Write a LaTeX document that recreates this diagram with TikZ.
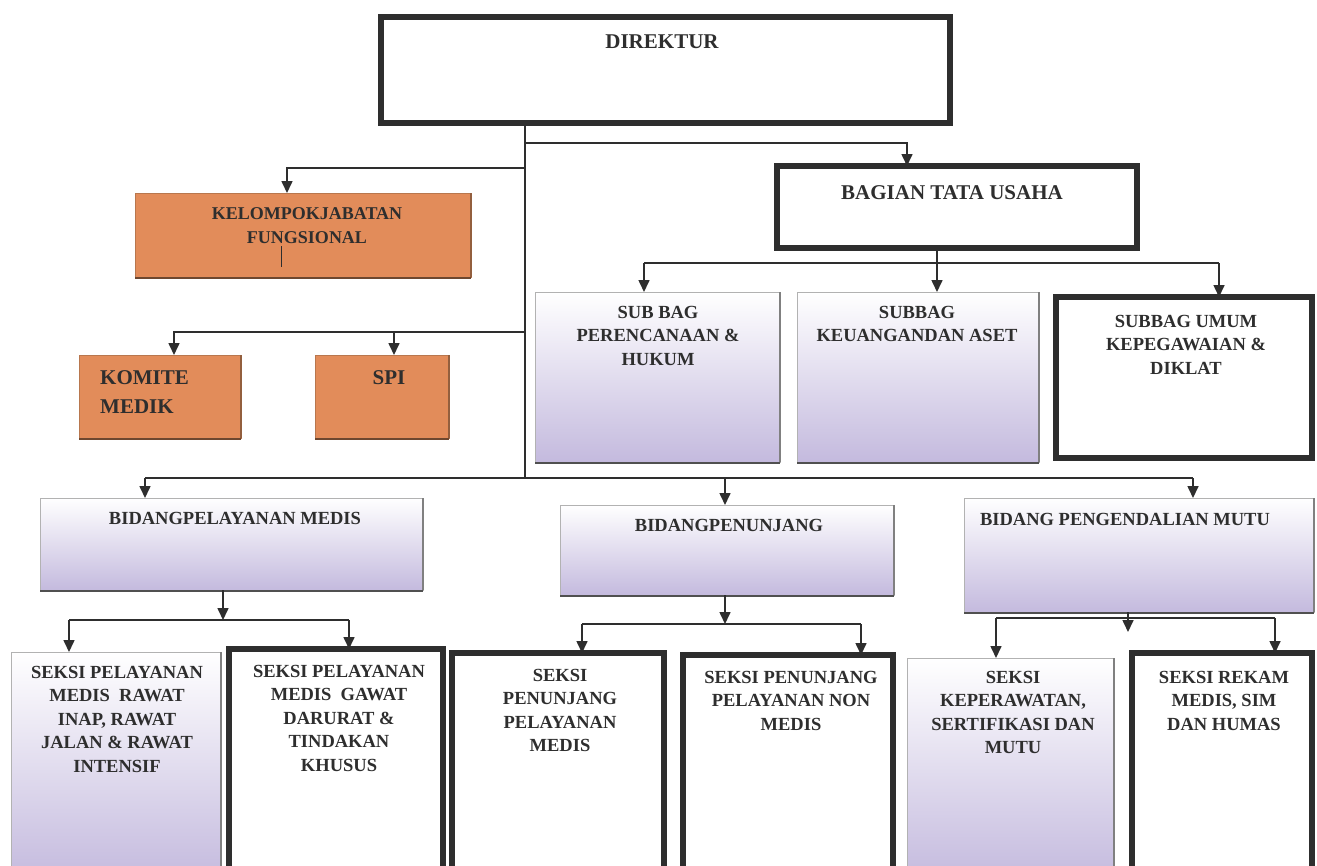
\documentclass[tikz,border=0pt]{standalone}
\usepackage{fontspec}
\setmainfont{Liberation Serif}
\usetikzlibrary{arrows.meta}
\definecolor{ink}{HTML}{2E2E2E}
\definecolor{lav}{HTML}{C4BADE}
\definecolor{lavmid}{HTML}{EEEAF5}
\definecolor{orA}{HTML}{E28C5A}
\definecolor{orB}{HTML}{F6C49E}
\definecolor{orEdge}{HTML}{B8774E}
\definecolor{shd}{HTML}{505050}
\newcommand\mkbox[6]{\node[#2, minimum width={(#5-#3)*1pt}, minimum height={(#6-#4)*1pt}] (#1) at (#3,#4) {};}
\begin{document}
\begin{tikzpicture}[x=1pt,y=-1pt,
 boxbase/.style={rectangle, inner sep=0pt, outer sep=0pt, anchor=north west},
 thickbox/.style={boxbase, draw=ink, line width=5.5pt, fill=white},
 purplebox/.style={boxbase, draw=gray!60, line width=0.8pt, top color=white, middle color=lavmid, bottom color=lav},
 orangebox/.style={boxbase, draw=orEdge, line width=0.8pt, left color=orA, middle color=orB, right color=orA},
 lbl/.style={inner sep=0pt, align=center, text=ink, font=\bfseries\fontsize{18.5}{23.5}\selectfont, anchor=north},
 big/.style={font=\bfseries\fontsize{21}{29}\selectfont},
 conn/.style={draw=ink, line width=1.6pt},
 arr/.style={conn, -{Triangle[length=12pt,width=11pt]}},
]
\useasboundingbox (0,0) rectangle (1317,865);
\clip (0,0) rectangle (1317,865);
\fill[white] (0,0) rectangle (1317,865);

% boxes
\mkbox{dir}{thickbox}{381}{17}{950}{123}
\mkbox{btu}{thickbox}{777}{166}{1137}{248}
\mkbox{kel}{orangebox}{135}{193}{471}{277}
\mkbox{kom}{orangebox}{79}{355}{241}{438}
\mkbox{spi}{orangebox}{315}{355}{449}{438}
\mkbox{sbp}{purplebox}{535}{292}{780}{462}
\mkbox{sbk}{purplebox}{797}{292}{1039}{462}
\mkbox{sbu}{thickbox}{1056}{297}{1312}{458}
\mkbox{bpm}{purplebox}{40}{498}{423}{590}
\mkbox{bp}{purplebox}{560}{505}{894}{595}
\mkbox{bpmu}{purplebox}{964}{498}{1314}{612}
\mkbox{s1}{purplebox}{11}{652}{221}{880}
\mkbox{s2}{thickbox}{229}{649}{443}{880}
\mkbox{s3}{thickbox}{452}{653}{664}{880}
\mkbox{s4}{thickbox}{683}{655}{893}{880}
\mkbox{s5}{purplebox}{907}{658}{1114}{880}
\mkbox{s6}{thickbox}{1132}{653}{1312}{880}

% shadows
\foreach \n in {sbp,sbk,bpm,bp,bpmu}{
  \draw[shd, line width=2.5pt] ([yshift=-1pt]\n.south west) -- ([yshift=-1pt]\n.south east);
  \draw[gray, line width=1.6pt] (\n.north east) -- (\n.south east);
}
\foreach \n in {s1,s5}{
  \draw[gray, line width=1.6pt] (\n.north east) -- (\n.south east);
}
\foreach \n in {kel,kom,spi}{
  \draw[orEdge!60!black, line width=2.5pt] ([yshift=-1pt]\n.south west) -- ([yshift=-1pt]\n.south east);
  \draw[orEdge!80!black, line width=1.6pt] (\n.north east) -- (\n.south east);
}

% texts
\node[lbl, big] (tdir) at (662,35) {DIREKTUR};
\node[lbl, big] (tbtu) at (952,185) {BAGIAN TATA USAHA};
\node[lbl, font=\bfseries\fontsize{18}{24}\selectfont] (tkel) at (307,207) {KELOMPOKJABATAN\\FUNGSIONAL};
\node[lbl, big, anchor=north west, align=left] (tkom) at (100,370) {KOMITE\\MEDIK};
\node[lbl, big] (tspi) at (389,370) {SPI};
\node[lbl] (tsbp) at (658,306) {SUB BAG\\PERENCANAAN \&\\HUKUM};
\node[lbl] (tsbk) at (917,306) {SUBBAG\\KEUANGANDAN ASET};
\node[lbl] (tsbu) at (1186,315) {SUBBAG UMUM\\KEPEGAWAIAN \&\\DIKLAT};
\node[lbl] (tbpm) at (235,512) {BIDANGPELAYANAN MEDIS};
\node[lbl] (tbp) at (729,519) {BIDANGPENUNJANG};
\node[lbl] (tbpmu) at (1125,513) {BIDANG PENGENDALIAN MUTU};
\node[lbl] (ts1) at (117,666) {SEKSI PELAYANAN\\MEDIS\ \ RAWAT\\INAP, RAWAT\\JALAN \& RAWAT\\INTENSIF};
\node[lbl] (ts2) at (339,665) {SEKSI PELAYANAN\\MEDIS\ \ GAWAT\\DARURAT \&\\TINDAKAN\\KHUSUS};
\node[lbl] (ts3) at (560,669) {SEKSI\\PENUNJANG\\PELAYANAN\\MEDIS};
\node[lbl] (ts4) at (791,671) {SEKSI PENUNJANG\\PELAYANAN NON\\MEDIS};
\node[lbl] (ts5) at (1013,671) {SEKSI\\KEPERAWATAN,\\SERTIFIKASI DAN\\MUTU};
\node[lbl] (ts6) at (1224,671) {SEKSI REKAM\\MEDIS, SIM\\DAN HUMAS};
\draw[ink, line width=1pt] (281,246) -- (281,267);

% connectors
\coordinate (jb) at (525,478);
\draw[conn, line width=1.1pt] (dir.south -| jb) -- (jb);
\coordinate (cBtu) at (525,143);
\draw[arr] (cBtu) -| ([xshift=-50pt]btu.north);
\coordinate (k1) at (525,168);
\draw[arr] (k1) -| ([xshift=-16pt]kel.north);
\coordinate (k2) at (525,332);
\draw[arr] (k2) -| ([xshift=14pt]kom.north);
\draw[arr] ([xshift=12pt]spi.north |- k2) -- ([xshift=12pt]spi.north);

\coordinate (u1) at (644,263);
\coordinate (u2) at (1219,263);
\draw[conn] (u1) -- (u2);
\draw[arr] (u1) -- (u1 |- sbp.north);
\draw[arr] (u2) -- (u2 |- sbu.north);
\draw[arr] ([xshift=-20pt]btu.south) -- ([xshift=-20pt]btu.south |- sbk.north);

\coordinate (mL) at (145,478);
\coordinate (mR) at (1193,478);
\draw[conn] (mL) -- (mR);
\draw[arr] (mL) -- (mL |- bpm.north);
\draw[arr] ([xshift=-2pt]bp.north |- mL) -- ([xshift=-2pt]bp.north);
\draw[arr] (mR) -- (mR |- bpmu.north);

\coordinate (b1) at (69,620);
\coordinate (b2) at (349,620);
\draw[arr] ([xshift=-8.5pt]bpm.south) -- ([xshift=-8.5pt]bpm.south |- b1);
\draw[conn] (b1) -- (b2);
\draw[arr] (b1) -- (b1 |- s1.north);
\draw[arr] (b2) -- (b2 |- s2.north);

\coordinate (p1) at (582,624);
\coordinate (p2) at (861,624);
\draw[arr] ([xshift=-2pt]bp.south) -- ([xshift=-2pt]bp.south |- p1);
\draw[conn] (p1) -- (p2);
\draw[arr] (p1) -- (p1 |- s3.north);
\draw[arr] (p2) -- (p2 |- s4.north);

\coordinate (m1) at (996,618);
\coordinate (m2) at (1275,618);
\draw[conn] (m1) -- (m2);
\draw[arr] ([xshift=-11pt]bpmu.south) -- ++(0,20);
\draw[arr] (m1) -- (m1 |- s5.north);
\draw[arr] (m2) -- (m2 |- s6.north);
\end{tikzpicture}
\end{document}
